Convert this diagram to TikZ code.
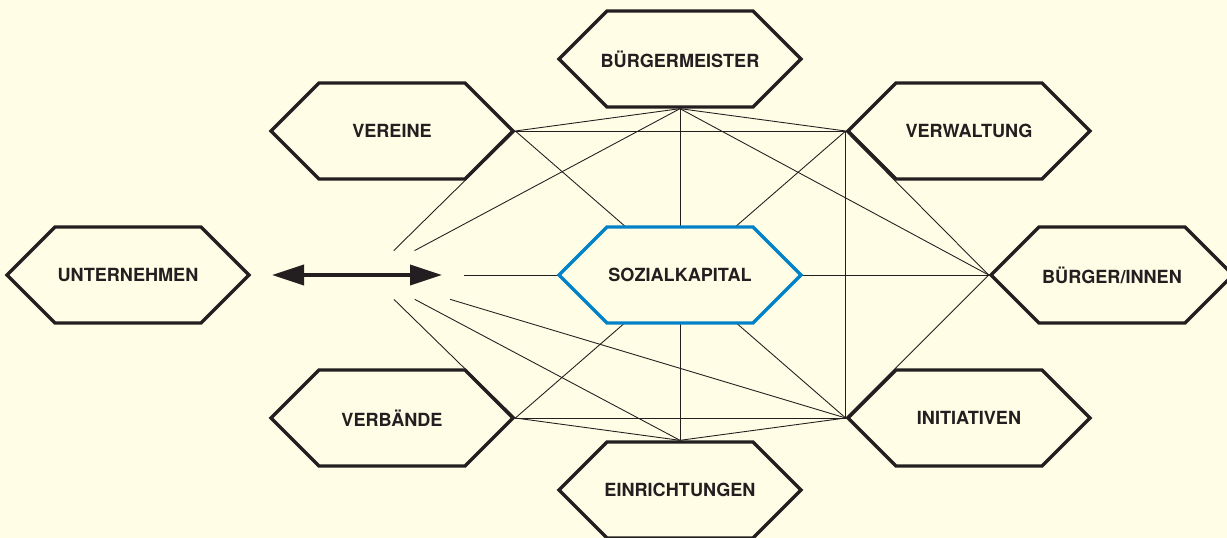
\documentclass[tikz,border=0pt]{standalone}
\usepackage{fontspec}
\setmainfont{TeX Gyre Heros}
\usepackage{xcolor}
\usepackage{tikz}
\usetikzlibrary{arrows.meta, shapes.symbols, backgrounds}

\definecolor{papier}{RGB}{255,253,229}
\definecolor{tinte}{RGB}{35,31,32}
\definecolor{kapitalblau}{RGB}{0,130,200}

\begin{document}
\begin{tikzpicture}[x=0.2mm, y=-0.2mm,
  sechseck/.style={signal, signal to=east and west, signal pointer angle=90,
    draw=tinte, line width=1.9pt, fill=papier, inner xsep=-8mm, inner ysep=0pt,
    minimum width=48.4mm, minimum height=19.2mm,
    text=tinte, font=\fontsize{10.3}{12}\selectfont\bfseries},
  verbindung/.style={draw=tinte, line width=0.5pt}]
  \useasboundingbox (0,0) rectangle (1227,538);

  \node[sechseck] (buergermeister) at (680,59) {BÜRGERMEISTER};
  \node[sechseck] (vereine) at (392,131) {VEREINE};
  \node[sechseck] (verwaltung) at (969,131) {VERWALTUNG};
  \node[sechseck] (unternehmen) at (128,275) {UNTERNEHMEN};
  \node[sechseck, draw=kapitalblau] (sozialkapital) at (680,275) {SOZIALKAPITAL};
  \node[sechseck] (buerger) at (1112,275) {BÜRGER/INNEN};
  \node[sechseck] (verbaende) at (392,418) {VERBÄNDE};
  \node[sechseck] (initiativen) at (969,418) {INITIATIVEN};
  \node[sechseck] (einrichtungen) at (680,490) {EINRICHTUNGEN};

  % Knoten, in dem sich die Linien links treffen
  \node[minimum width=38mm, minimum height=9.6mm, inner sep=0pt] (mitte) at (369,275) {};
  \coordinate (pfeillinks) at (272,275);
  \coordinate (pfeilrechts) at (442,275);

  \draw[tinte, line width=2pt, {Triangle[length=6.4mm, width=4mm]}-{Triangle[length=6.4mm, width=4mm]}]
    (pfeillinks) -- (pfeilrechts);

  \begin{scope}[on background layer]
    \fill[papier] (0,0) rectangle (1227,538);
    \draw[verbindung] (buergermeister.south) -- (vereine.east);
    \draw[verbindung] (buergermeister.south) -- (mitte);
    \draw[verbindung] (buergermeister.south) -- (einrichtungen.north);
    \draw[verbindung] (buergermeister.south) -- (buerger.west);
    \draw[verbindung] (buergermeister.south) -- (verwaltung.west);
    \draw[verbindung] (verwaltung.west) -- (vereine.east);
    \draw[verbindung] (verwaltung.west) -- (verbaende.east);
    \draw[verbindung] (verwaltung.west) -- (initiativen.west);
    \draw[verbindung] (verwaltung.west) -- (buerger.west);
    \draw[verbindung] (buerger.west) -- (mitte);
    \draw[verbindung] (buerger.west) -- (initiativen.west);
    \draw[verbindung] (initiativen.west) -- (vereine.east);
    \draw[verbindung] (initiativen.west) -- (mitte);
    \draw[verbindung] (initiativen.west) -- (verbaende.east);
    \draw[verbindung] (initiativen.west) -- (einrichtungen.north);
    \draw[verbindung] (einrichtungen.north) -- (mitte);
    \draw[verbindung] (einrichtungen.north) -- (verbaende.east);
    \draw[verbindung] (verbaende.east) -- (mitte);
    \draw[verbindung] (vereine.east) -- (mitte);
  \end{scope}
\end{tikzpicture}
\end{document}
